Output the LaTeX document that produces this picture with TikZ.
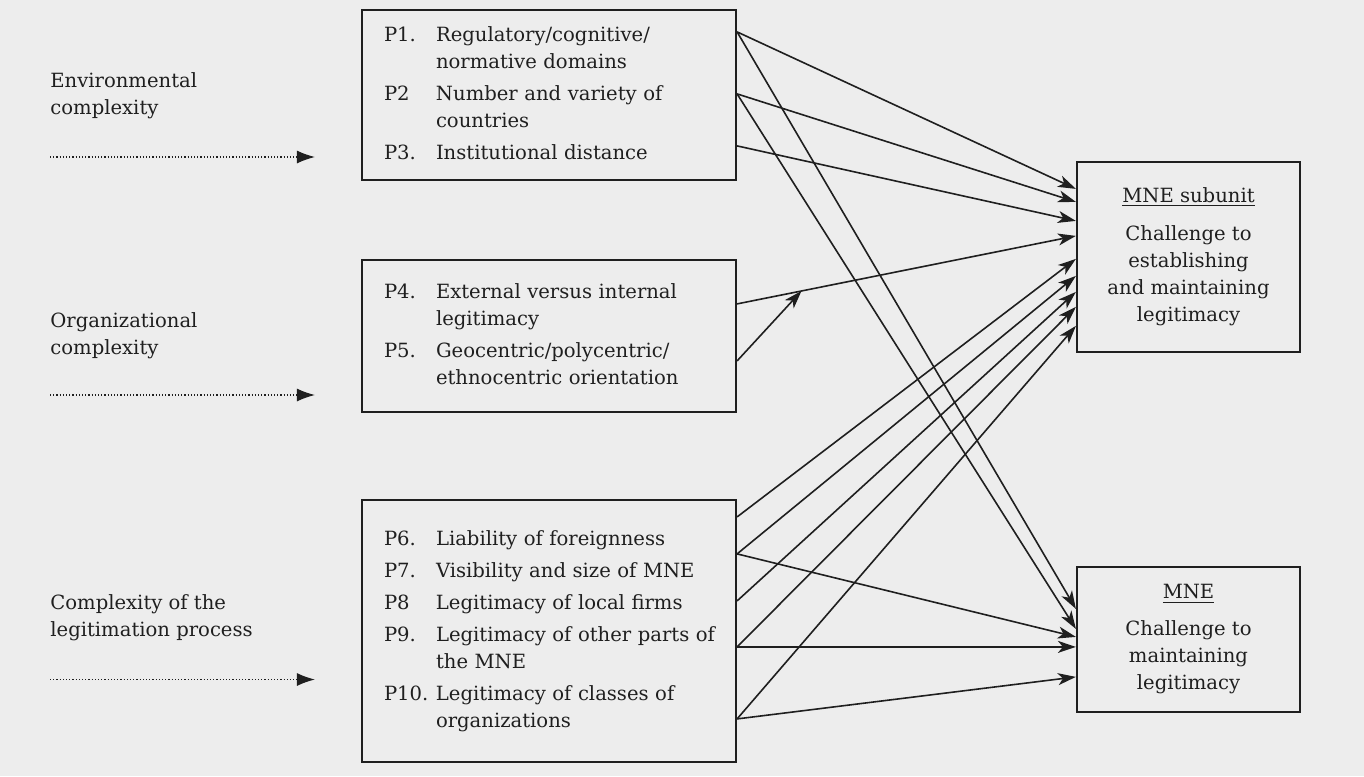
\documentclass[tikz,border=0pt]{standalone}
\usepackage{fontspec}
\setmainfont{DejaVu Serif}
\usetikzlibrary{shapes,arrows.meta,positioning}
\colorlet{ink}{black!88}
\colorlet{paper}{black!7}
\tikzstyle{factor} = [draw=ink, rectangle, line width=1.1pt,
    text width=165pt, inner xsep=11pt, align=left]
\tikzstyle{outcome} = [draw=ink, rectangle, line width=1.1pt,
    minimum width=111.5pt, inner sep=0pt, align=center]
\tikzstyle{source} = [inner sep=0pt, anchor=west, align=left]
\tikzstyle{effect} = [draw=ink, line width=0.8pt,
    -{Stealth[length=9pt,width=6pt,inset=2.5pt]}]
\tikzstyle{feed} = [draw=ink, densely dotted, line width=0.6pt,
    -{Latex[length=9pt,width=6.5pt]}]

\begin{document}
\begin{tikzpicture}[x=0.5pt, y=-0.5pt, node distance=120.5pt,
    font=\fontsize{9.8}{13.5}\selectfont, text=ink]
    \fill [paper] (0,0) rectangle (1364,776);
    \useasboundingbox (0,0) rectangle (1364,776);
    % We start by placing the three groups of propositions
    \node [factor, minimum height=85pt] at (549,95) (envbox) {%
        \begin{tabular}{@{}p{26pt}@{}l@{}}
        P1. & Regulatory/cognitive/\\
            & normative domains\\[2.5pt]
        P2  & Number and variety of\\
            & countries\\[2.5pt]
        P3. & Institutional distance
        \end{tabular}};
    \node [factor, below of=envbox, minimum height=76pt] (orgbox) {%
        \begin{tabular}{@{}p{26pt}@{}l@{}}
        P4. & External versus internal\\
            & legitimacy\\[2.5pt]
        P5. & Geocentric/polycentric/\\
            & ethnocentric orientation
        \end{tabular}};
    \node [factor, below of=orgbox, node distance=147.5pt,
            minimum height=131pt] (legbox) {%
        \begin{tabular}{@{}p{26pt}@{}l@{}}
        P6.  & Liability of foreignness\\[2.5pt]
        P7.  & Visibility and size of MNE\\[2.5pt]
        P8   & Legitimacy of local firms\\[2.5pt]
        P9.  & Legitimacy of other parts of\\
             & the MNE\\[2.5pt]
        P10. & Legitimacy of classes of\\
             & organizations
        \end{tabular}};
    % The two outcome blocks on the right
    \node [outcome, minimum height=95pt] at (1188.5,257) (subbox)
        {\underline{MNE subunit}\\[5.5pt] Challenge to\\ establishing\\
         and maintaining\\ legitimacy};
    \node [outcome, below of=subbox, node distance=191.25pt,
            minimum height=72.5pt] (mnebox)
        {\underline{MNE}\\[5pt] Challenge to\\ maintaining\\ legitimacy};

    % Labels on the left with their dotted arrows
    \node [source] at (50,96) (envlabel) {Environmental\\complexity};
    \node [source] at (50,336) (orglabel) {Organizational\\complexity};
    \node [source] at (50,618) (leglabel) {Complexity of the\\legitimation process};
    \coordinate [below=30.5pt of envlabel.west] (envin);
    \coordinate [below=29.5pt of orglabel.west] (orgin);
    \coordinate [below=30.75pt of leglabel.west] (legin);
    \draw [feed, shorten >=23pt] (envin) -- (envin -| envbox.west);
    \draw [feed, shorten >=23pt] (orgin) -- (orgin -| orgbox.west);
    \draw [feed, shorten >=23pt] (legin) -- (legin -| legbox.west);

    % Points where the arrows leave and enter the blocks
    \foreach \n/\d in {1/11.5, 2/42.5, 3/68.5}
        \coordinate (p\n) at ([yshift=-\d pt]envbox.north east);
    \foreach \n/\d in {4/22.5, 5/51}
        \coordinate (p\n) at ([yshift=-\d pt]orgbox.north east);
    \foreach \n/\d in {6/9, 7/27.5, 8/51, 9/74, 10/110}
        \coordinate (p\n) at ([yshift=-\d pt]legbox.north east);
    \foreach \n/\d in {1/14, 2/20.5, 3/30, 4/37.5, 5/49, 6/57.5, 7/65.5, 8/73, 9/82.5}
        \coordinate (s\n) at ([yshift=-\d pt]subbox.north west);
    \foreach \n/\d in {1/21.5, 2/31.5, 3/35.5, 4/40.5, 5/55.5}
        \coordinate (m\n) at ([yshift=-\d pt]mnebox.north west);

    % Once the points are placed, connecting them is easy.
    \draw [effect] (p4) -- node [pos=0.19, coordinate] (mod) {} (s4);
    \draw [effect] (p5) -- (mod);
    \foreach \a/\b in {p1/s1, p2/s2, p3/s3, p6/s5, p7/s6, p8/s7, p9/s8, p10/s9,
                       p1/m1, p2/m2, p7/m3, p9/m4, p10/m5}
        \draw [effect] (\a) -- (\b);
\end{tikzpicture}
\end{document}
